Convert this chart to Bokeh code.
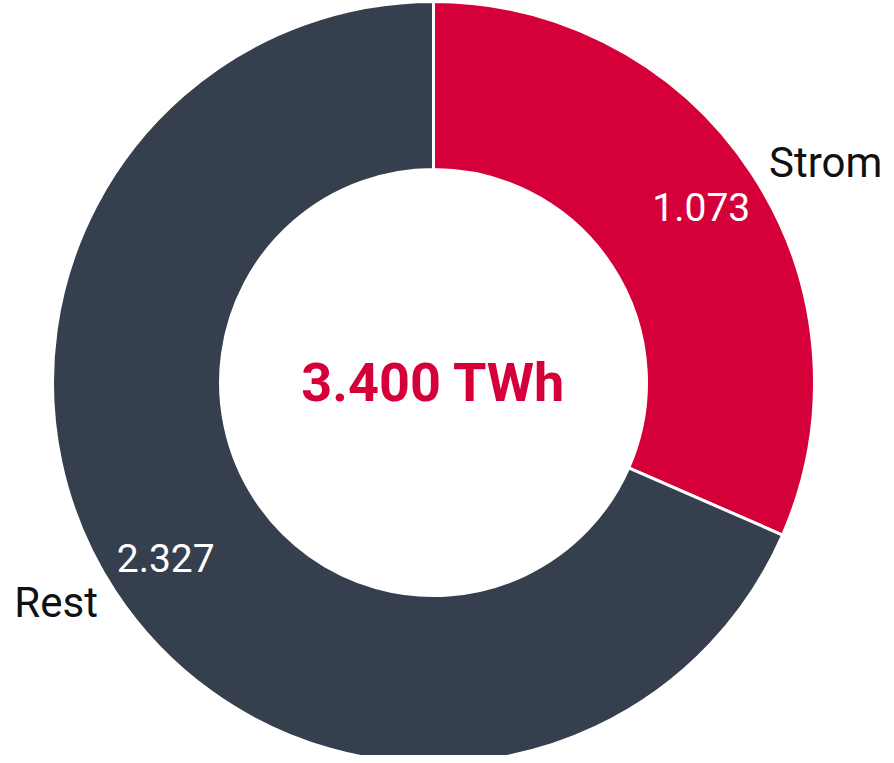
import math
from bokeh.plotting import figure
from bokeh.models import Range1d, ColumnDataSource
from bokeh.core.properties import value
from bokeh.embed import file_html
from bokeh.resources import INLINE

# ---- data ----
categories = ["Strom", "Rest"]
values = [1.073, 2.327]
value_labels = ["1.073", "2.327"]
colors = ["#D5003A", "#353F4E"]
total_label = "3.400 TWh"

FONT = "Roboto"
R_OUT, R_IN = 381, 213
R_VAL, R_CAT = 320, 401

total = sum(values)
starts, ends, mids = [], [], []
acc = 0.0
for v in values:
    s = math.pi / 2 - acc / total * 2 * math.pi
    acc += v
    e = math.pi / 2 - acc / total * 2 * math.pi
    starts.append(s)
    ends.append(e)
    mids.append((s + e) / 2)

src = ColumnDataSource(dict(
    start=starts, end=ends, color=colors,
    vx=[R_VAL * math.cos(m) for m in mids],
    vy=[R_VAL * math.sin(m) for m in mids],
    vl=value_labels,
    cx=[R_CAT * math.cos(m) for m in mids],
    cy=[R_CAT * math.sin(m) for m in mids],
    cl=categories,
    align=["left" if math.cos(m) >= 0 else "right" for m in mids],
))

p = figure(width=886, height=755, output_backend="svg", toolbar_location=None,
           x_range=Range1d(-433, 453), y_range=Range1d(-373, 382),
           min_border=0, min_border_left=0, min_border_right=0,
           min_border_top=0, min_border_bottom=0)
p.axis.visible = False
p.grid.visible = False
p.outline_line_color = None
p.background_fill_color = "white"
p.border_fill_color = "white"

p.annular_wedge(x=0, y=0, inner_radius=R_IN, outer_radius=R_OUT,
                start_angle="start", end_angle="end", direction="clock",
                fill_color="color", line_color="white", line_width=3, source=src)

p.text(x="vx", y="vy", text="vl", source=src, text_color="white",
       text_font=value(FONT), text_font_size="39px",
       text_align="center", text_baseline="middle")

p.text(x="cx", y="cy", text="cl", source=src, text_color="#111111",
       text_font=value(FONT), text_font_size="42px",
       text_align="align", text_baseline="middle")

p.text(x=[0], y=[0], text=[total_label], text_color="#D5003A",
       text_font=value(FONT), text_font_size="54px", text_font_style="bold",
       text_align="center", text_baseline="middle")

open("out.html", "w").write(file_html(p, INLINE))
